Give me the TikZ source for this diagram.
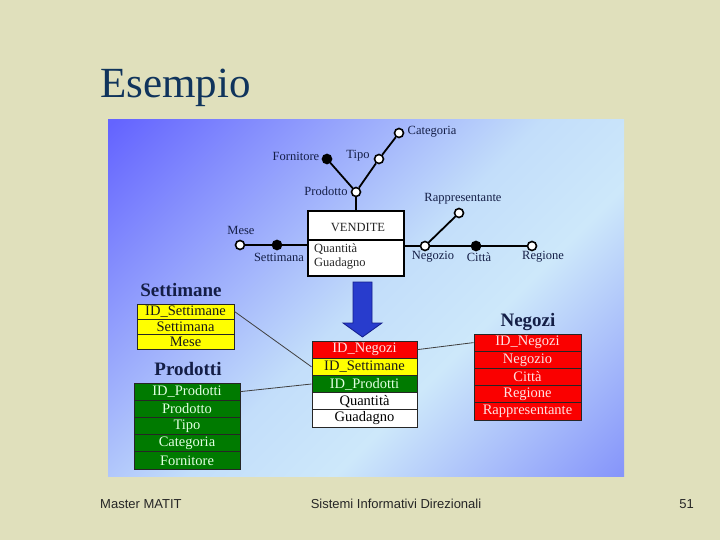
\documentclass[tikz,border=0pt]{standalone}
\usepackage{fontspec}
\setmainfont{Liberation Serif}
\newfontfamily\footfont{Liberation Sans}
\usetikzlibrary{calc}
\definecolor{slidebg}{RGB}{224,224,188}
\definecolor{titlecol}{RGB}{16,52,92}
\definecolor{pA}{RGB}{100,100,255}
\definecolor{pB}{RGB}{195,222,250}
\definecolor{pC}{RGB}{205,232,250}
\definecolor{pD}{RGB}{135,150,250}
\definecolor{labcol}{RGB}{20,30,70}
\definecolor{cellred}{RGB}{250,0,0}
\definecolor{cellgreen}{RGB}{0,122,0}
\definecolor{cellyellow}{RGB}{255,255,0}
\definecolor{redtxt}{RGB}{255,225,225}
\definecolor{greentxt}{RGB}{225,255,225}
\definecolor{arrowfill}{RGB}{40,60,205}
\definecolor{arrowline}{RGB}{20,30,140}
\pgfdeclarehorizontalshading{panelsh}{100bp}{color(0bp)=(pA); color(15bp)=(pA); color(50bp)=(pB); color(62bp)=(pC); color(85bp)=(pD); color(100bp)=(pD)}
\tikzset{
  ln/.style={line width=1.8pt, black},
  oc/.style={circle, draw=black, line width=1.6pt, fill=white, minimum size=9pt, inner sep=0pt},
  fc/.style={circle, draw=black, line width=1.6pt, fill=black, minimum size=9pt, inner sep=0pt},
  lab/.style={font=\fontsize{12.5}{13}\selectfont, text=labcol, inner sep=0pt},
  head/.style={font=\bfseries\fontsize{19}{20}\selectfont, text=labcol, inner sep=0pt},
  cell/.style={draw=black!85, line width=1pt, inner sep=0pt, font=\fontsize{14.5}{15}\selectfont},
  ycell/.style={cell, fill=cellyellow, text=black!90},
  rcell/.style={cell, fill=cellred, text=redtxt},
  gcell/.style={cell, fill=cellgreen, text=greentxt},
  wcell/.style={cell, fill=white, text=black},
  link/.style={line width=0.8pt, draw=black!75},
  foot/.style={font=\footfont\fontsize{13}{14}\selectfont, text=black!85, inner sep=0pt}
}
\begin{document}
\begin{tikzpicture}[x=1pt,y=-1pt]
\fill[slidebg] (0,0) rectangle (720,540);
\useasboundingbox (0,0) rectangle (720,540);
% title
\node[anchor=base west, inner sep=0pt, text=titlecol, font=\fontsize{43}{46}\selectfont] (title) at (100,98) {Esempio};
% panel
\shade[shading=panelsh, shading angle=-45] (108,120) rectangle (624,476);
% ---------- fact schema ----------
\node[draw=black, line width=1.8pt, fill=white, minimum width=96pt, minimum height=65pt, inner sep=0pt] (box) at (356,243.5) {};
\draw[line width=1.4pt] ($(box.west)+(0,-3.5)$) -- ($(box.east)+(0,-3.5)$);
\node[lab, text=black!85] (vend) at (358,227.5) {VENDITE};
\node[lab, anchor=west, text=black!85] (qta) at (314,249) {Quantità};
\node[lab, anchor=west, text=black!85] (gua) at (314,264) {Guadagno};
% circles
\node[oc] (mese) at (240,245) {};
\node[fc] (sett) at (277,245) {};
\node[oc] (neg) at (425,246) {};
\node[fc] (citta) at (476,246) {};
\node[oc] (reg) at (532,246) {};
\node[oc] (rapp) at (459,213) {};
\node[oc] (prod) at (356,192) {};
\node[fc] (forn) at (327,159) {};
\node[oc] (tipo) at (379,159) {};
\node[oc] (cat) at (399,133) {};
% lines
\draw[ln] (mese) -- (sett);
\draw[ln] (sett) -- (sett -| box.west);
\draw[ln] (neg -| box.east) -- (neg);
\draw[ln] (neg) -- (citta);
\draw[ln] (citta) -- (reg);
\draw[ln] (neg) -- (rapp);
\draw[ln] (box) -- (prod);
\draw[ln] (prod) -- (forn);
\draw[ln] (prod) -- (tipo);
\draw[ln] (tipo) -- (cat);
% labels
\node[lab] (lmese) at (241,230) {Mese};
\node[lab] (lsett) at (279,257) {Settimana};
\node[lab] (lneg) at (433,257) {Negozio};
\node[lab] (lcitta) at (479,257) {Città};
\node[lab] (lreg) at (543,257) {Regione};
\node[lab] (lrapp) at (463,199) {Rappresentante};
\node[lab] (lprod) at (326,191) {Prodotto};
\node[lab] (lforn) at (296,156) {Fornitore};
\node[lab] (ltipo) at (358,156) {Tipo};
\node[lab] (lcat) at (432,132) {Categoria};
% ---------- arrow ----------
\draw[fill=arrowfill, draw=arrowline, line width=0.8pt, line join=miter]
  (353,282) -- (372,282) -- (372,323) -- (382,323) -- (362.5,337) -- (343,323) -- (353,323) -- cycle;
% ---------- tables ----------
\node[head] (hsett) at (181,290) {Settimane};
\node[head] (hprod) at (188,369) {Prodotti};
\node[head] (hneg) at (528,322) {Negozi};
% Settimane
\node[ycell, minimum width=97pt, minimum height=15pt] (s1) at (185.5,311.5) {ID\_Settimane};
\node[ycell, minimum width=97pt, minimum height=15pt] (s2) at (185.5,326.5) {Settimana};
\node[ycell, minimum width=97pt, minimum height=15pt] (s3) at (185.5,341.5) {Mese};
% Prodotti
\node[gcell, minimum width=106pt, minimum height=17.2pt] (p1) at (187,391.6) {ID\_Prodotti};
\node[gcell, minimum width=106pt, minimum height=17.2pt] (p2) at (187,408.8) {Prodotto};
\node[gcell, minimum width=106pt, minimum height=17.2pt] (p3) at (187,426.0) {Tipo};
\node[gcell, minimum width=106pt, minimum height=17.2pt] (p4) at (187,443.2) {Categoria};
\node[gcell, minimum width=106pt, minimum height=17.2pt] (p5) at (187,460.4) {Fornitore};
% central fact table
\node[rcell, minimum width=105pt, minimum height=17.2pt] (c1) at (364.5,349.6) {ID\_Negozi};
\node[ycell, minimum width=105pt, minimum height=17.2pt] (c2) at (364.5,366.8) {ID\_Settimane};
\node[gcell, minimum width=105pt, minimum height=17.2pt] (c3) at (364.5,384.0) {ID\_Prodotti};
\node[wcell, minimum width=105pt, minimum height=17.2pt] (c4) at (364.5,401.2) {Quantità};
\node[wcell, minimum width=105pt, minimum height=17.2pt] (c5) at (364.5,418.4) {Guadagno};
% Negozi
\node[rcell, minimum width=107pt, minimum height=17.2pt] (n1) at (527.5,342.6) {ID\_Negozi};
\node[rcell, minimum width=107pt, minimum height=17.2pt] (n2) at (527.5,359.8) {Negozio};
\node[rcell, minimum width=107pt, minimum height=17.2pt] (n3) at (527.5,377.0) {Città};
\node[rcell, minimum width=107pt, minimum height=17.2pt] (n4) at (527.5,394.2) {Regione};
\node[rcell, minimum width=107pt, minimum height=17.2pt] (n5) at (527.5,411.4) {Rappresentante};
% links
\draw[link] (s1.east) -- (c2.west);
\draw[link] (p1.east) -- (c3.west);
\draw[link] (c1.east) -- (n1.west);
% ---------- footer ----------
\node[foot, anchor=west] (f1) at (100,504) {Master MATIT};
\node[foot] (f2) at (396,504) {Sistemi Informativi Direzionali};
\node[foot, anchor=east] (f3) at (694,504) {51};
\end{tikzpicture}
\end{document}
